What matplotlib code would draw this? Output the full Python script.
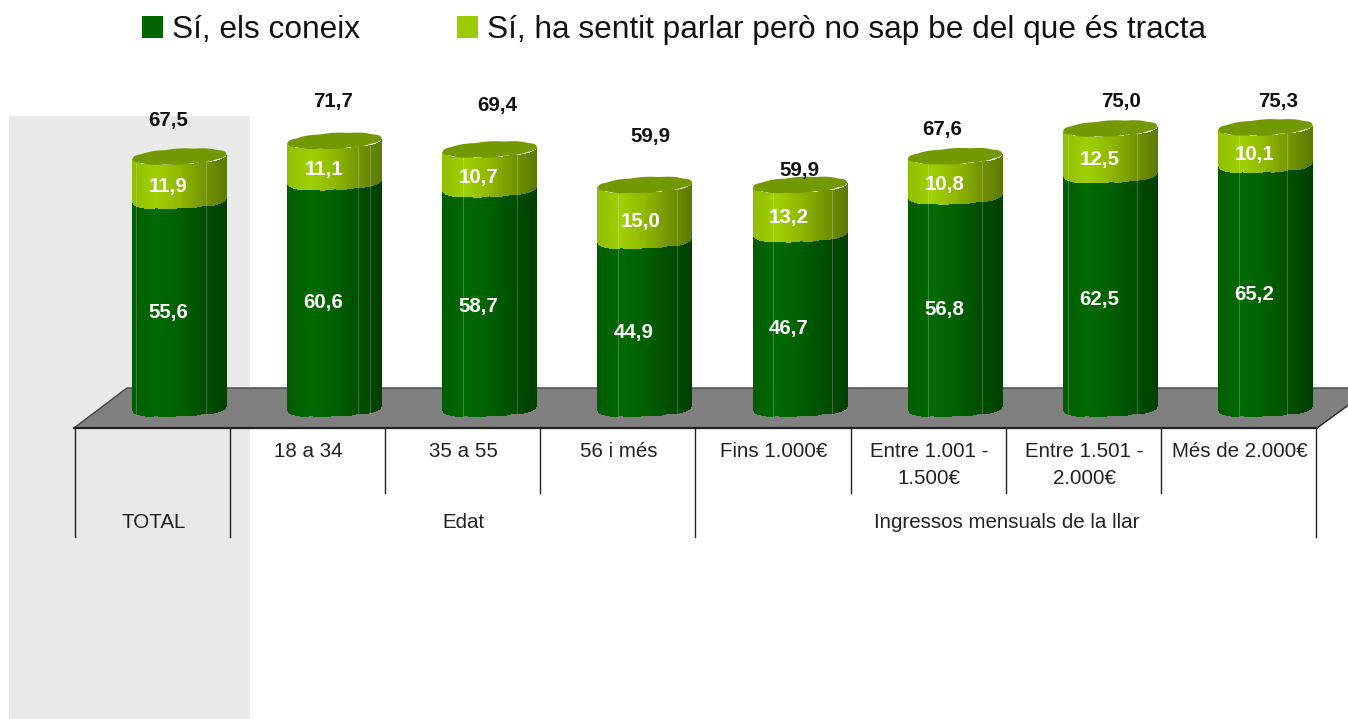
import matplotlib
matplotlib.use("Agg")
import matplotlib.pyplot as plt
import numpy as np
from matplotlib.colors import LinearSegmentedColormap
from matplotlib.patches import Patch, Polygon, Rectangle
from matplotlib.transforms import Affine2D

plt.rcParams["font.family"] = ["Liberation Sans", "DejaVu Sans"]

W, H = 1348, 719
PX_X = 155.14  # pixels per category
PX_Y = 3.74  # pixels per percentage point
X0 = 179.5
BASE = 409

categories = ["TOTAL", "18 a 34", "35 a 55", "56 i més", "Fins 1.000€",
              "Entre 1.001 -\n1.500€", "Entre 1.501 -\n2.000€", "Més de 2.000€"]
known = [55.6, 60.6, 58.7, 44.9, 46.7, 56.8, 62.5, 65.2]
heard = [11.9, 11.1, 10.7, 15.0, 13.2, 10.8, 12.5, 10.1]
totals = [67.5, 71.7, 69.4, 59.9, 59.9, 67.6, 75.0, 75.3]
series_names = ["Sí, els coneix", "Sí, ha sentit parlar però no sap be del que és tracta"]
group_names = ["TOTAL", "Edat", "Ingressos mensuals de la llar"]
group_centres = [0, 2, 5.5]

# hand placed labels, the original chart has them all over the place
total_dx = [-11, -2, 7, 6, -1, -13, 11, 13]
total_dy = [36, 39, 44, 48, 14, 27, 27, 26]
heard_dx = [-11, -11, -11, -4, -11, -11, -11, -11]
# facet highlights on each cylinder
line_dx = [(-43, 27), (23, 35), (-27, 27), (-27, 32), (-27, 32), (-27, 27), (-42, 27), (-26, 22)]

BAR_W = 94 / PX_X
SLICE = 1.0 / PX_X
dark_cmap = LinearSegmentedColormap.from_list(
    "dark", ["#005c00", "#006a00", "#006000", "#004f00", "#003f00"])
light_cmap = LinearSegmentedColormap.from_list(
    "light", ["#8fbf00", "#9fd000", "#8fb800", "#759600", "#5a7a00"])


def arc(u, height=7.0):
    # scalloped front edge of the cylinder, in percentage points
    round_part = height * np.clip(1 - u ** 2, 0, 1) ** 0.4
    bumps = 0.9 * np.abs(np.sin(u * 6.5))
    return (round_part + bumps - 2 * u) / PX_Y


def fmt(v):
    return f"{v:.1f}".replace(".", ",")


fig = plt.figure(figsize=(W / 100, H / 100), dpi=100)
ax = fig.add_axes([0, 0, 1, 1])
ax.set_xlim(-X0 / PX_X, (W - X0) / PX_X)
ax.set_ylim((BASE - H) / PX_Y, BASE / PX_Y)
ax.axis("off")

px = Affine2D().scale(1, -1).translate(0, H)
cells = ax.transData + Affine2D().translate(-27, 0)

# grey band behind TOTAL and the floor
ax.add_patch(Rectangle((9, 116), 241, 603, transform=px, fc="#e9e9e9", ec="none", zorder=0))
ax.add_patch(Polygon([(74, 428), (127, 388), (1372, 388), (1317, 428)], closed=True,
                     transform=px, fc="#808080", ec="none", zorder=1))
ax.plot([74, 127, 1372], [428, 388, 388], transform=px, color="#444444", lw=1, zorder=1)
ax.plot([1317, 1372], [428, 388], transform=px, color="#222222", lw=1, zorder=1)
ax.plot([74, 1317], [428, 428], transform=px, color="#222222", lw=1.6, zorder=2)

# separators below the floor
tick_bottom = (BASE - 537) / PX_Y
tick_mid = (BASE - 493) / PX_Y
tick_top = (BASE - 428) / PX_Y
for i in range(len(categories) + 1):
    low = tick_bottom if i in (0, 1, 4, 8) else tick_mid
    ax.plot([i - 0.5, i - 0.5], [tick_top, low], transform=cells, color="#222222", lw=1, zorder=2)

u = np.linspace(-1, 1, 95)
xs = u * BAR_W / 2
for i in range(len(categories)):
    front = arc(u)
    shade = (u + 1) / 2
    for j in range(len(u)):
        ax.bar(i + xs[j], known[i], bottom=-front[j], width=SLICE * 1.05,
               color=dark_cmap(shade[j]), lw=0, antialiased=False, zorder=3)
        ax.bar(i + xs[j], heard[i], bottom=known[i] - front[j], width=SLICE * 1.05,
               color=light_cmap(shade[j]), lw=0, antialiased=False, zorder=3)
    # facet highlights
    for dx in line_dx[i]:
        ax.plot([i + dx / PX_X] * 2, [-arc(np.array([dx / 47.5]))[0], totals[i] - 1.5],
                color="white", alpha=0.22, lw=0.8, zorder=3.5)
    # top cap
    t = np.linspace(0, 2 * np.pi, 160)
    cap_x = i + np.cos(t) * BAR_W / 2
    cap_y = totals[i] + (7.5 * np.sin(t) + 0.6 * np.abs(np.sin(5 * t)) * np.sign(np.sin(t))
                         + 2.5 * np.cos(t)) / PX_Y
    ax.fill(cap_x, cap_y, color="#739900", lw=0, zorder=4)

# value labels
for i in range(len(categories)):
    ax.annotate(fmt(known[i]), (i, known[i] / 2), xytext=(-11, -7),
                textcoords="offset pixels", ha="center", va="center", color="white",
                fontsize=14.8, fontweight="bold", zorder=5)
    ax.annotate(fmt(heard[i]), (i, known[i] + heard[i] / 2),
                xytext=(heard_dx[i], -8), textcoords="offset pixels", ha="center", va="center",
                color="white", fontsize=14.8, fontweight="bold", zorder=5)
    ax.annotate(fmt(totals[i]), (i, totals[i]),
                xytext=(total_dx[i], total_dy[i]), textcoords="offset pixels", ha="center",
                va="center", color="#111111", fontsize=14.8, fontweight="bold", zorder=6)

# category and group labels
for i in range(1, len(categories)):
    ax.annotate(categories[i], (i, 0), xytext=(-26, -33), textcoords="offset pixels",
                ha="center", va="top", fontsize=14.8, color="#222222", linespacing=1.5, zorder=5)
for name, c in zip(group_names, group_centres):
    ax.annotate(name, (c, 0), xytext=(-26, -113), textcoords="offset pixels",
                ha="center", va="center", fontsize=14.8, color="#222222", zorder=5)

handles = [Patch(fc="#006400", ec="none"), Patch(fc="#9bcc00", ec="none")]
ax.legend(handles, series_names, ncol=2, frameon=False, fontsize=22.8,
          loc="center left", bbox_to_anchor=(142 / W, 1 - 30 / H), bbox_transform=fig.transFigure,
          borderpad=0, borderaxespad=0, handlelength=0.66, handleheight=0.66,
          handletextpad=0.28, columnspacing=3.06, labelcolor="#111111")

fig.savefig("out.png", dpi=100)
